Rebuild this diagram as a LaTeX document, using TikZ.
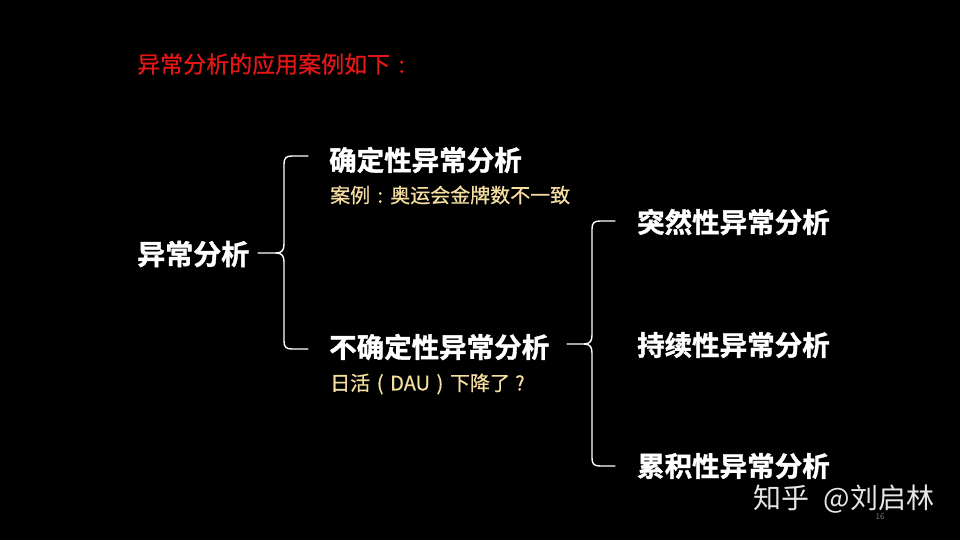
\documentclass[tikz,border=0pt]{standalone}
\usepackage{fontspec}
\setmainfont{Noto Sans CJK SC}
\newfontfamily\cjkb{Noto Sans CJK SC Bold}[FakeBold=1.3]
\newfontfamily\cjkm{Noto Sans CJK SC}[FakeBold=0.6]
\definecolor{titlered}{RGB}{228,22,22}
\definecolor{subyellow}{RGB}{246,222,160}
\definecolor{wmgray}{RGB}{230,230,230}
\definecolor{pgnum}{RGB}{120,120,120}
\newcommand{\ccolon}{\makebox[1em][c]{:}}
\newcommand{\cbox}[1]{\makebox[1em][c]{#1}}
\begin{document}
\begin{tikzpicture}[x=1pt,y=-1pt,
  heading/.style={anchor=west,inner sep=0pt,text=white,font=\cjkb\fontsize{27.5}{30}\selectfont},
  note/.style={anchor=west,inner sep=0pt,text=subyellow,font=\cjkm\fontsize{20}{22}\selectfont},
  bracel/.style={draw=white,line width=1.4pt,line cap=round,line join=round}]
\fill[black] (0,0) rectangle (960,540);
\useasboundingbox (0,0) rectangle (960,540);

\node[anchor=west,inner sep=0pt,text=titlered,font=\cjkm\fontsize{23}{25}\selectfont] (title) at (137,64) {异常分析的应用案例如下\ccolon};

\node[heading,font=\cjkb\fontsize{28}{30}\selectfont] (root) at (137,254) {异常分析};

\node[heading] (det) at (329,160) {确定性异常分析};
\node[note] (detnote) at (330,195) {案例\ccolon 奥运会金牌数不一致};
\node[heading] (undet) at (329,347) {不确定性异常分析};
\node[note] (undetnote) at (330,384) {日活\cbox{(}DAU\cbox{)}下降了\cbox{?}};

\node[heading] (sudden) at (637,222) {突然性异常分析};
\node[heading] (cont) at (637,345) {持续性异常分析};
\node[heading] (cum) at (637,466) {累积性异常分析};

% left brace
\draw[bracel] (308,156) -- (292,156) .. controls (286,156) and (284,158) .. (284,164)
  -- (284,244) .. controls (284,250) and (282,253) .. (276,253) -- (258,253);
\draw[bracel] (276,253) .. controls (282,253) and (284,256) .. (284,262)
  -- (284,341) .. controls (284,347) and (286,349) .. (292,349) -- (308,349);

% right brace
\draw[bracel] (615,221) -- (600,221) .. controls (594,221) and (592,223) .. (592,229)
  -- (592,335) .. controls (592,341) and (590,344) .. (584,344) -- (567,344);
\draw[bracel] (584,344) .. controls (590,344) and (592,347) .. (592,353)
  -- (592,458) .. controls (592,464) and (594,466) .. (600,466) -- (615,466);

\node[anchor=west,inner sep=0pt,text=wmgray,font=\fontsize{28}{30}\selectfont] (wm) at (753,499) {知乎\hspace{0.3em} @刘启林};
\node[inner sep=0pt,text=pgnum,font=\fontsize{8}{9}\selectfont] (pg) at (880,517) {16};
\end{tikzpicture}
\end{document}
